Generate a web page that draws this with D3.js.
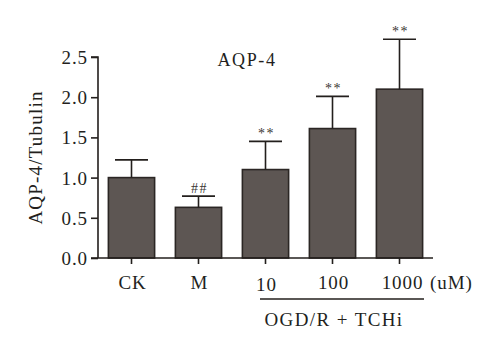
<!DOCTYPE html>
<html>
<head>
<meta charset="utf-8">
<script src="https://cdn.jsdelivr.net/npm/d3@7"></script>
<style>
  body { margin: 0; background: #fff; }
  svg text { font-family: "Liberation Serif", "DejaVu Serif", serif; fill: #231f1d; }
</style>
</head>
<body>
<div id="canvas"></div>
<script>
const groups = ['CK', 'M', '10', '100', '1000'];
const means = [1.00, 0.63, 1.10, 1.61, 2.10];
const errors = [0.22, 0.14, 0.35, 0.40, 0.62];
const marks = ['', '##', '**', '**', '**'];
const yTicks = [0, 0.5, 1.0, 1.5, 2.0, 2.5];

const width = 500, height = 352;
const ink = '#231f1d';
const fs = 19;
const ls = 0.9;

const svg = d3.select('#canvas').append('svg')
    .attr('width', width)
    .attr('height', height);

const x = d3.scaleBand()
    .domain(groups)
    .range([98, 433])
    .paddingInner(0.31)
    .paddingOuter(0.155);

const y = d3.scaleLinear()
    .domain([0, 2.5])
    .range([258, 57]);

/* bars */
svg.append('g').selectAll('rect')
    .data(groups)
    .join('rect')
    .attr('x', d => x(d))
    .attr('y', (d, i) => y(means[i]))
    .attr('width', x.bandwidth())
    .attr('height', (d, i) => y(0) - y(means[i]))
    .attr('fill', '#5d5653')
    .attr('stroke', '#2b2624')
    .attr('stroke-width', 1.6);

/* error bars (upper only) */
const err = svg.append('g').attr('stroke', ink).attr('stroke-width', 1.6);
groups.forEach((g, i) => {
    const cx = x(g) + x.bandwidth() / 2;
    err.append('line')
        .attr('x1', cx).attr('x2', cx)
        .attr('y1', y(means[i])).attr('y2', y(means[i] + errors[i]));
    err.append('line')
        .attr('x1', cx - 16.5).attr('x2', cx + 16.5)
        .attr('y1', y(means[i] + errors[i])).attr('y2', y(means[i] + errors[i]));
});

/* significance marks */
svg.append('g').selectAll('text')
    .data(groups)
    .join('text')
    .attr('x', d => x(d) + x.bandwidth() / 2 + 1)
    .attr('y', (d, i) => y(means[i] + errors[i]) - 3)
    .attr('text-anchor', 'middle')
    .attr('font-size', 14)
    .attr('letter-spacing', 1.5)
    .style('fill', '#3a3532')
    .text((d, i) => marks[i]);

/* y axis */
const yAxis = svg.append('g')
    .attr('transform', 'translate(98,0)')
    .call(d3.axisLeft(y).tickValues(yTicks).tickFormat(d3.format('.1f')).tickSize(7));
yAxis.select('.domain').attr('stroke', ink).attr('stroke-width', 1.6)
    .attr('d', `M-7,${y(2.5)}H0V${y(0)}`);
yAxis.selectAll('.tick line').attr('stroke', ink).attr('stroke-width', 1.6);
yAxis.selectAll('.tick text')
    .attr('font-size', fs)
    .attr('letter-spacing', ls)
    .attr('x', -10)
    .attr('dy', '0.34em');

/* x axis */
const xAxis = svg.append('g')
    .attr('transform', `translate(0,${y(0)})`)
    .call(d3.axisBottom(x).tickSize(6).tickSizeOuter(0));
xAxis.select('.domain').attr('stroke', ink).attr('stroke-width', 1.6)
    .attr('d', `M91,0H433`);
xAxis.selectAll('.tick line').attr('stroke', ink).attr('stroke-width', 1.6);
xAxis.selectAll('.tick text')
    .attr('font-size', fs)
    .attr('letter-spacing', ls)
    .attr('dy', 0)
    .attr('y', d => d === '10' ? 33 : 31)
    .attr('dx', d => d === '1000' ? 3 : 1);

/* unit */
svg.append('text')
    .attr('x', 430)
    .attr('y', y(0) + 31)
    .attr('font-size', fs)
    .attr('letter-spacing', ls)
    .text('(uM)');

/* treatment bracket */
svg.append('line')
    .attr('x1', 260).attr('x2', 424)
    .attr('y1', 299).attr('y2', 299)
    .attr('stroke', ink).attr('stroke-width', 1.4);
svg.append('text')
    .attr('x', 334)
    .attr('y', 326)
    .attr('text-anchor', 'middle')
    .attr('font-size', fs)
    .attr('letter-spacing', 1.4)
    .text('OGD/R + TCHi');

/* title */
svg.append('text')
    .attr('x', 247)
    .attr('y', 66)
    .attr('text-anchor', 'middle')
    .attr('font-size', 18)
    .attr('letter-spacing', 1.6)
    .text('AQP-4');

/* y label */
svg.append('text')
    .attr('transform', `translate(42,${(y(0) + y(2.5)) / 2}) rotate(-90)`)
    .attr('text-anchor', 'middle')
    .attr('font-size', fs)
    .attr('letter-spacing', 1.2)
    .text('AQP-4/Tubulin');
</script>
</body>
</html>
